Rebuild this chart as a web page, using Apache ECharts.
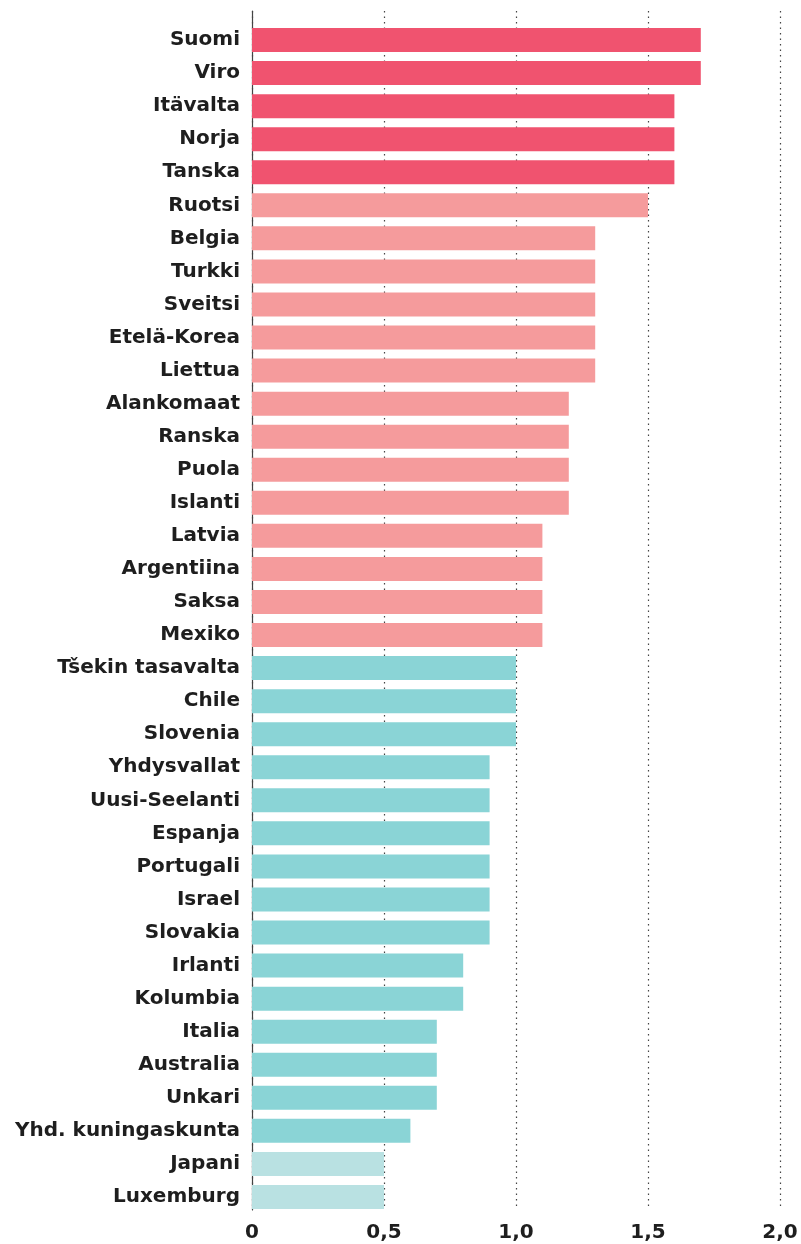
<!DOCTYPE html>
<html>
<head>
<meta charset="utf-8">
<script src="https://cdn.jsdelivr.net/npm/echarts@6/dist/echarts.min.js"></script>
<style>
html,body{margin:0;padding:0;background:#fff;}
#main{width:801px;height:1244px;}
</style>
</head>
<body>
<div id="main"></div>
<script>
const categories = ['Suomi','Viro','Itävalta','Norja','Tanska','Ruotsi','Belgia','Turkki','Sveitsi','Etelä-Korea','Liettua','Alankomaat','Ranska','Puola','Islanti','Latvia','Argentiina','Saksa','Mexiko','Tšekin tasavalta','Chile','Slovenia','Yhdysvallat','Uusi-Seelanti','Espanja','Portugali','Israel','Slovakia','Irlanti','Kolumbia','Italia','Australia','Unkari','Yhd. kuningaskunta','Japani','Luxemburg'];
const values = [1.7,1.7,1.6,1.6,1.6,1.5,1.3,1.3,1.3,1.3,1.3,1.2,1.2,1.2,1.2,1.1,1.1,1.1,1.1,1.0,1.0,1.0,0.9,0.9,0.9,0.9,0.9,0.9,0.8,0.8,0.7,0.7,0.7,0.6,0.5,0.5];
const groups = ['a','a','a','a','a','b','b','b','b','b','b','b','b','b','b','b','b','b','b','c','c','c','c','c','c','c','c','c','c','c','c','c','c','c','d','d'];
const xTicks = [0,0.5,1.0,1.5,2.0];

const groupColors = {a:'#f0536f', b:'#f59b9c', c:'#8ad4d6', d:'#b9e1e2'};
const fontFamily = '"DejaVu Sans", sans-serif';

const chart = echarts.init(document.getElementById('main'), null, {renderer:'canvas'});
chart.setOption({
  animation:false,
  backgroundColor:'#fff',
  grid:[
    {left:252, right:21, top:23.5, bottom:30.5, containLabel:false},
    {left:252, right:21, top:11, bottom:34, containLabel:false}
  ],
  xAxis:[
    {gridIndex:0, type:'value', min:xTicks[0], max:xTicks[xTicks.length-1], interval:0.5, show:false},
    {gridIndex:1, type:'value', min:xTicks[0], max:xTicks[xTicks.length-1], interval:0.5,
     axisLine:{show:false}, axisTick:{show:false},
     splitLine:{show:true, lineStyle:{type:[1.5,4], color:'#444', width:1.2}},
     axisLabel:{margin:13, color:'#1e1e1e', fontSize:20, fontWeight:'bold', fontFamily:fontFamily,
       formatter:v=> v===0 ? '0' : v.toFixed(1).replace('.',',')}}
  ],
  yAxis:[
    {gridIndex:0, type:'category', data:categories, inverse:true,
     axisLine:{show:false}, axisTick:{show:false},
     axisLabel:{margin:12, color:'#1e1e1e', fontSize:20, fontWeight:'bold', fontFamily:fontFamily}},
    {gridIndex:1, type:'value', min:0, max:1, axisLabel:{show:false}, axisTick:{show:false},
     splitLine:{show:false}, axisLine:{show:true, lineStyle:{color:'#444', width:1.2}}}
  ],
  series:[{
    type:'bar', xAxisIndex:0, yAxisIndex:0, barWidth:24, z:5,
    data: values.map((v,i)=>({value:v, itemStyle:{color:groupColors[groups[i]]}}))
  }]
});
</script>
</body>
</html>
